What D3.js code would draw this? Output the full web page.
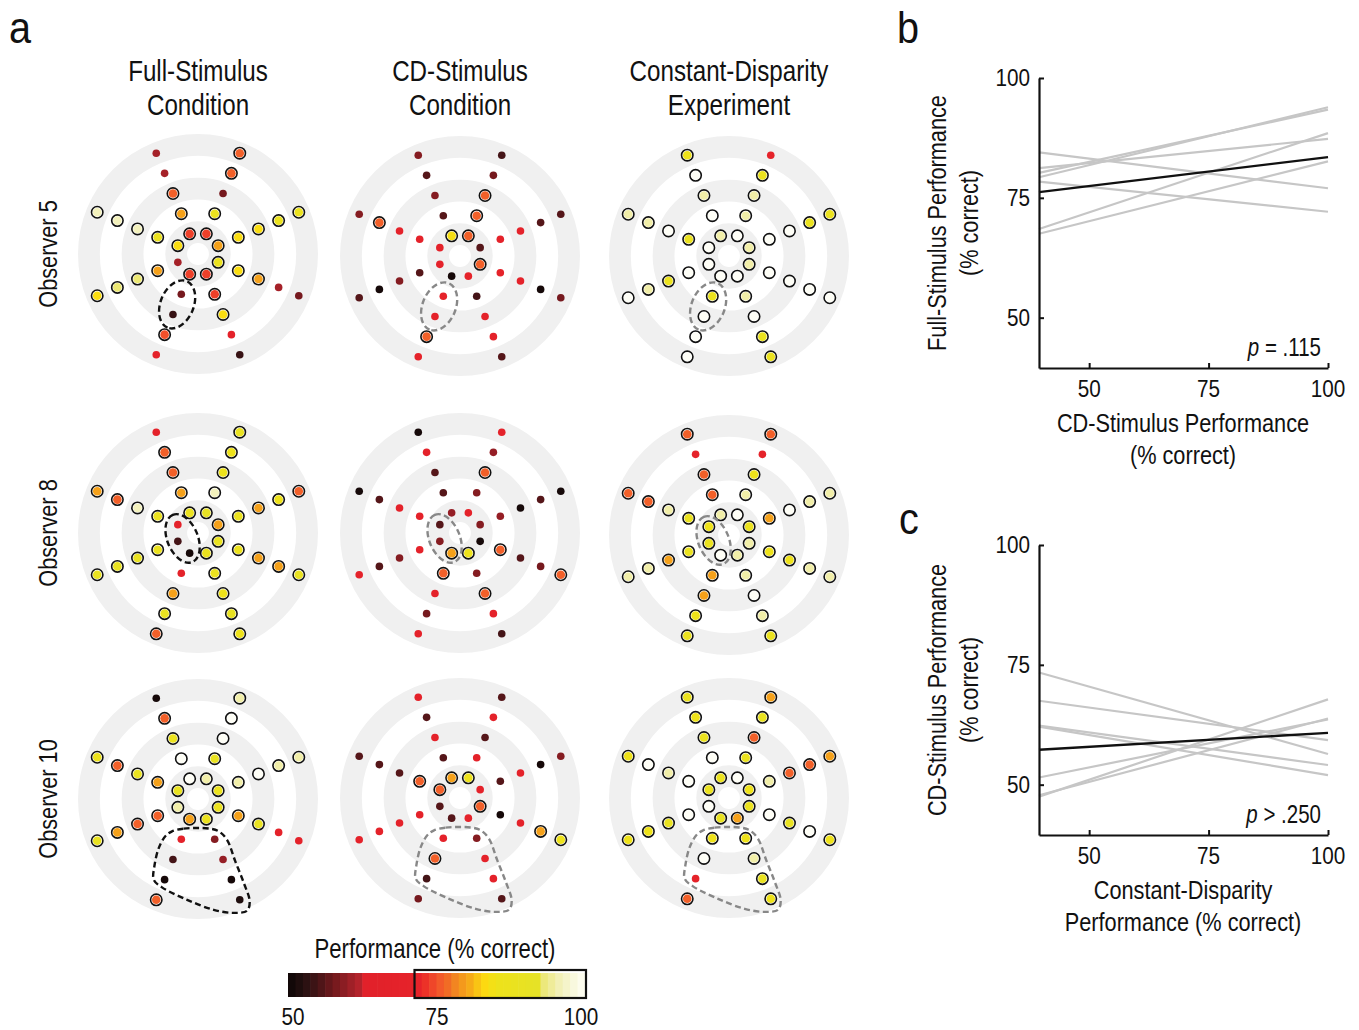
<!DOCTYPE html>
<html><head><meta charset="utf-8">
<script src="https://cdn.jsdelivr.net/npm/d3@7"></script>
<style>
body{margin:0;background:#fff;}
svg text{font-family:"Liberation Sans",Arial,Helvetica,sans-serif;fill:#111;}
</style></head><body>
<svg id="chart" width="1359" height="1030"></svg>
<script>
// ---------------- DATA ----------------
const spokeAngles = [22.5, 67.5, 112.5, 157.5, 202.5, 247.5, 292.5, 337.5];
const eccentricities = [1, 2, 3, 4, 5];
const columnTitles = [["Full-Stimulus","Condition"],["CD-Stimulus","Condition"],["Constant-Disparity","Experiment"]];
const observerLabels = ["Observer 5","Observer 8","Observer 10"];

// performance (% correct); rows = spokes (in spokeAngles order), cols = eccentricity 1..5
const obs5Full = [[80,83.5,83.5,88,88],[74,88,58,76,76],[74,80,76,61,61],[83.5,88,96,96,96],
                  [61,80,93,93,83.5],[74,58,54,75,68],[74,74,83.5,68,54],[88,83.5,80,61,58]];
const obs5CD   = [[56,68,68,56,56],[76,76,76,58,55],[84,56,59,56,59],[69,68,68,76,59],
                  [68,56,59,51,56],[51,70,68,76,70],[70,55,68,68,56],[76,70,69,51,58]];
const obs5Disp = [[95,100,100,88,88],[100,95,95,88,70],[95,100,95,100,85],[100,88,100,95,95],
                  [100,100,88,95,100],[100,88,100,100,100],[100,95,100,88,88],[95,100,100,100,100]];
const obs8Full = [[80,88,80,85,76],[91,96,86,85,89],[88,80,76,76,69],[69,88,96,76,80],
                  [55,88,89,89,89],[51,69,80,89,76],[88,88,85,89,85],[89,87,80,80,89]];
const obs8CD   = [[59,60,51,56,51],[69,59,76,60,69],[60,56,56,69,51],[56,69,69,56,51],
                  [59,69,59,56,69],[80,76,69,58,69],[86,59,76,69,55],[51,76,56,58,76]];
const obs8Disp = [[88,80,100,95,95],[100,95,85,70,76],[95,76,76,70,76],[85,88,95,76,76],
                  [88,88,80,95,95],[100,80,80,85,88],[95,95,100,95,88],[95,85,85,95,95]];
const obs10Full = [[88,95,100,95,95],[95,89,100,100,95],[100,100,88,76,51],[89,80,89,76,87],
                   [95,76,76,80,89],[80,69,55,51,76],[88,59,60,51,52],[88,80,89,69,69]];
const obs10CD   = [[69,56,69,51,59],[86,69,56,69,56],[80,56,69,56,68],[76,76,56,56,56],
                   [56,69,69,69,69],[56,69,76,55,58],[69,59,69,69,56],[76,51,69,80,86]];
const obs10Disp = [[85,95,76,76,80],[100,88,76,89,80],[88,100,88,85,88],[88,100,95,100,85],
                   [100,100,89,85,85],[89,85,100,70,76],[80,85,95,89,85],[88,100,89,100,85]];

const significanceThreshold = 72;

// colour map (value -> colour)
const cmapValues = [50,52.5,55,57.5,60,61.9,63.1,71.9,73.1,75.6,77,78.5,80.6,82,83.3,85,91.9,93.1,95.6,98.1,100];
const cmapColors = ["#0c0505","#241010","#441417","#6e181c","#951e25","#b3232b","#e1212a","#e6232a","#ec3228",
                    "#f25a2a","#f16e25","#f28c1f","#f6aa18","#f9c614","#fcdc10","#eee21a","#e6e226","#ece87a",
                    "#f2f0b6","#f8f8de","#fefef6"];
const colorbarTicks = [50, 75, 100];

// panel b: regression lines (Full-Stimulus vs CD-Stimulus)
const lineX = [39.5, 100];
const bObsStart = [84.5, 81.2, 80.2, 79.3, 78.4, 68.5, 67.5];
const bObsEnd   = [77.0, 87.3, 93.4, 93.9, 72.1, 88.5, 82.6];
const bMean = [76.2, 83.5];
// panel c: regression lines (CD-Stimulus vs Constant-Disparity)
const cObsStart = [73.4, 67.5, 62.3, 62.1, 51.5, 47.8, 47.5];
const cObsEnd   = [56.4, 59.3, 54.1, 52.0, 63.6, 63.8, 67.8];
const cMean = [57.3, 60.8];
const scatterTicks = [50, 75, 100];

// ---------------- DRAW ----------------
const svg = d3.select("#chart");
const color = d3.scaleLinear().domain(cmapValues).range(cmapColors).interpolate(d3.interpolateRgb).clamp(true);
const radial = d3.scaleLinear().domain([0, 5.5]).range([0, 120]);
const SX = 0.82; // horizontal condensing to mimic a condensed face

function label(parent, x, y, parts, size, anchor = "middle", rot = 0, sx = SX) {
  const t = parent.append("text")
    .attr("transform", `translate(${x},${y}) rotate(${rot}) scale(${sx},1)`)
    .attr("text-anchor", anchor).attr("font-size", size);
  (Array.isArray(parts) ? parts : [[parts, false]]).forEach(p => {
    const s = t.append("tspan").text(p[0]);
    if (p[1]) s.attr("font-style", "italic");
  });
  return t;
}

const grid = [[obs5Full, obs5CD, obs5Disp],[obs8Full, obs8CD, obs8Disp],[obs10Full, obs10CD, obs10Disp]];
const colCx = [198, 460, 729];
const rowCy = [[254, 256, 256],[533, 533, 535],[799, 798, 798]];
const outlineColors = ["#111", "#888", "#888"];

// dashed outlines per observer row (in eccentricity units)
const outlines = [
  {type:"ellipse", angle:247.5, ecc:2.5, along:1.15, across:0.76},
  {type:"ellipse", angle:199.5, ecc:0.75, along:1.17, across:0.7, axis:112.5},
  {type:"path", pts:[[-1.19,1.48],[-0.66,1.36],[-0.05,1.33],[0.56,1.36],[0.95,1.48],[1.33,1.87],[1.71,2.86],
     [2.10,3.85],[2.37,4.69],[2.25,5.12],[1.64,5.22],[0.72,5.08],[-0.50,4.62],[-1.65,4.05],[-2.03,3.70],
     [-2.00,3.09],[-1.80,2.25],[-1.50,1.71]]}
];

const ringArc = d3.arc().startAngle(0).endAngle(2*Math.PI);

grid.forEach((row, ri) => {
  row.forEach((data, ci) => {
    const cx = colCx[ci], cy = rowCy[ri][ci];
    const g = svg.append("g").attr("transform", `translate(${cx},${cy})`);
    [1,3,5].forEach(k => {
      g.append("path").attr("d", ringArc({innerRadius: radial(k-0.5), outerRadius: radial(k+0.5)}))
        .attr("fill", "#f0f0f0");
    });
    const pts = [];
    data.forEach((vals, si) => vals.forEach((v, ei) => {
      const a = spokeAngles[si] * Math.PI/180, r = radial(eccentricities[ei]);
      pts.push({x: r*Math.cos(a), y: -r*Math.sin(a), v});
    }));
    pts.forEach(p => {
      if (p.v >= significanceThreshold) {
        g.append("circle").attr("cx", p.x).attr("cy", p.y).attr("r", 5.7)
          .attr("fill", "#fff").attr("stroke", "#111").attr("stroke-width", 1.6);
        g.append("circle").attr("cx", p.x).attr("cy", p.y).attr("r", 4.3).attr("fill", color(p.v));
      } else {
        g.append("circle").attr("cx", p.x).attr("cy", p.y).attr("r", 3.8).attr("fill", color(p.v));
      }
    });
    const o = outlines[ri];
    if (o.type === "ellipse") {
      const a = o.angle*Math.PI/180, r = radial(o.ecc);
      const ax = (o.axis !== undefined ? o.axis : o.angle);
      g.append("ellipse").attr("cx", 0).attr("cy", 0)
        .attr("rx", radial(o.along)).attr("ry", radial(o.across))
        .attr("transform", `translate(${r*Math.cos(a)},${-r*Math.sin(a)}) rotate(${-ax})`)
        .attr("fill", "none").attr("stroke", outlineColors[ci]).attr("stroke-width", 2.4)
        .attr("stroke-dasharray", "6,3.5");
    } else {
      const line = d3.line().x(d => radial(d[0])).y(d => radial(d[1])).curve(d3.curveCatmullRomClosed);
      g.append("path").attr("d", line(o.pts))
        .attr("fill", "none").attr("stroke", outlineColors[ci]).attr("stroke-width", 2.4)
        .attr("stroke-dasharray", "6,3.5");
    }
  });
});

// column titles
columnTitles.forEach((t, ci) => {
  label(svg, colCx[ci], 81, t[0], 29.5);
  label(svg, colCx[ci], 115, t[1], 29.5);
});
// row labels
observerLabels.forEach((t, ri) => {
  label(svg, 57, rowCy[ri][0], t, 26.5, "middle", -90);
});
// panel letters
label(svg, 9, 43, "a", 44, "start", 0, 0.9);
label(svg, 897, 43, "b", 44, "start", 0, 0.9);
label(svg, 899, 534, "c", 44, "start", 0, 0.9);

// colorbar
const cb = d3.scaleLinear().domain([50, 100]).range([288, 585]);
const nBlocks = 40, bw = (cb(100)-cb(50))/nBlocks;
const blocks = d3.range(nBlocks).map(i => 50 + (i+0.5)*50/nBlocks);
svg.append("g").selectAll("rect").data(blocks).join("rect")
  .attr("x", d => cb(d) - bw/2).attr("y", 973).attr("width", bw + 0.6).attr("height", 24)
  .attr("fill", d => color(d));
svg.append("rect").attr("x", cb(71.3)).attr("y", 970).attr("width", 586 - cb(71.3)).attr("height", 28)
  .attr("fill", "none").attr("stroke", "#111").attr("stroke-width", 2.2);
label(svg, 435, 958, "Performance (% correct)", 27);
const cbLabel = d3.scaleLinear().domain([50, 100]).range([293, 581]);
colorbarTicks.forEach(v => label(svg, cbLabel(v), 1025, String(v), 23, "middle", 0, 0.9));

// scatter panels
function panel(top, bottom, start, end, mean, ytitle, xtitle, ptext) {
  const x = d3.scaleLinear().domain([39.5, 100]).range([1039, 1328]);
  const y = d3.scaleLinear().domain([39.5, 100]).range([bottom, top]);
  const g = svg.append("g");
  const ln = d3.line().x(d => x(d[0])).y(d => y(d[1]));
  start.forEach((s, i) => {
    g.append("path").attr("d", ln([[lineX[0], s],[lineX[1], end[i]]]))
      .attr("fill", "none").attr("stroke", "#c6c6c6").attr("stroke-width", 2.2);
  });
  g.append("path").attr("d", ln([[lineX[0], mean[0]],[lineX[1], mean[1]]]))
    .attr("fill", "none").attr("stroke", "#111").attr("stroke-width", 2.4);
  const xa = g.append("g").attr("transform", `translate(0,${y(39.5)})`)
    .call(d3.axisBottom(x).tickValues(scatterTicks).tickSize(-5).tickSizeOuter(0).tickFormat(""));
  const ya = g.append("g").attr("transform", `translate(${x(39.5)},0)`)
    .call(d3.axisLeft(y).tickValues(scatterTicks).tickSize(-5).tickSizeOuter(0).tickFormat(""));
  [xa, ya].forEach(a => {
    a.select(".domain").attr("stroke", "#111").attr("stroke-width", 2.2);
    a.selectAll(".tick line").attr("stroke", "#111").attr("stroke-width", 2);
  });
  scatterTicks.forEach(v => {
    label(g, x(v), bottom + 29, String(v), 23, "middle", 0, 0.9);
    label(g, x(39.5) - 9, y(v) + 8, String(v), 23, "end", 0, 0.9);
  });
  const cyMid = (top + bottom) / 2;
  label(g, 946, cyMid, ytitle[0], 26.5, "middle", -90);
  label(g, 978, cyMid, ytitle[1], 26.5, "middle", -90);
  label(g, 1183, bottom + 64, xtitle[0], 26.5);
  label(g, 1183, bottom + 96, xtitle[1], 26.5);
  label(g, 1321, bottom - 12, [["p", true], [ptext, false]], 25, "end");
}
panel(78, 368, bObsStart, bObsEnd, bMean, ["Full-Stimulus Performance","(% correct)"],
      ["CD-Stimulus Performance","(% correct)"], " = .115");
panel(545, 835, cObsStart, cObsEnd, cMean, ["CD-Stimulus Performance","(% correct)"],
      ["Constant-Disparity","Performance (% correct)"], " > .250");
</script>
</body></html>
